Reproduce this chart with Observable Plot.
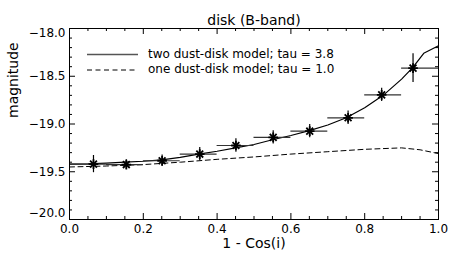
<!DOCTYPE html>
<html>
<head>
<meta charset="utf-8">
<script src="https://cdn.jsdelivr.net/npm/d3@7"></script>
<script src="https://cdn.jsdelivr.net/npm/@observablehq/plot@0.6"></script>
<style>
  html, body { margin: 0; padding: 0; background: white; }
  #wrap { position: relative; width: 449px; height: 255px; font-family: "DejaVu Sans", sans-serif; }
  #legend { position: absolute; left: 0; top: 0; width: 449px; height: 255px; pointer-events: none; }
</style>
</head>
<body>
<div id="wrap"></div>
<script>
// ---- data ----
const titleText = "disk (B-band)";
const xLabel = "1 - Cos(i)";
const yLabel = "magnitude";
const legendLabels = ["two dust-disk model; tau = 3.8", "one dust-disk model; tau = 1.0"];

const xMajorTicks = [0, 0.2, 0.4, 0.6, 0.8, 1.0];
const xMinorTicks = [0.05, 0.1, 0.15, 0.25, 0.3, 0.35, 0.45, 0.5, 0.55, 0.65, 0.7, 0.75, 0.85, 0.9, 0.95];
const yMajorTicks = [-20, -19.5, -19, -18.5, -18];
const yMinorTicks = [-19.9, -19.8, -19.7, -19.6, -19.4, -19.3, -19.2, -19.1, -18.9, -18.8, -18.7, -18.6, -18.4, -18.3, -18.2, -18.1];

// observed points
const binCenters = [0.065, 0.154, 0.251, 0.353, 0.451, 0.552, 0.651, 0.755, 0.846, 0.931];
const magnitudes = [-19.42, -19.425, -19.385, -19.315, -19.225, -19.14, -19.075, -18.935, -18.695, -18.415];
const magErrors  = [0.09, 0.05, 0.06, 0.07, 0.07, 0.07, 0.07, 0.07, 0.07, 0.15];
const binLow     = [0.0, 0.1, 0.2, 0.3, 0.4, 0.5, 0.6, 0.7, 0.8, 0.9];
const binHigh    = [0.1, 0.2, 0.3, 0.4, 0.5, 0.6, 0.7, 0.8, 0.9, 1.0];

// model curves
const twoDiskX = [0, 0.05, 0.1, 0.15, 0.2, 0.25, 0.3, 0.35, 0.4, 0.45, 0.5, 0.55, 0.6, 0.65, 0.7, 0.75, 0.8, 0.85, 0.9, 0.93, 0.96, 1.0];
const twoDiskY = [-19.42, -19.418, -19.41, -19.40, -19.39, -19.375, -19.35, -19.315, -19.285, -19.25, -19.215, -19.165, -19.12, -19.07, -19.01, -18.935, -18.83, -18.70, -18.53, -18.41, -18.26, -18.18];
const oneDiskX = [0, 0.1, 0.2, 0.3, 0.4, 0.5, 0.6, 0.7, 0.8, 0.9, 0.95, 1.0];
const oneDiskY = [-19.45, -19.44, -19.425, -19.40, -19.37, -19.345, -19.315, -19.29, -19.265, -19.25, -19.27, -19.31];

// ---- tables built from the arrays ----
const points = binCenters.map((x, i) => ({x, y: magnitudes[i], err: magErrors[i], lo: binLow[i], hi: binHigh[i]}));
const twoDisk = twoDiskX.map((x, i) => ({x, y: twoDiskY[i]}));
const oneDisk = oneDiskX.map((x, i) => ({x, y: oneDiskY[i]}));

const W = 449, H = 255, mL = 69, mR = 11, mT = 28, mB = 36;
const fw = W - mL - mR, fh = H - mT - mB;
const fmt = d3.format(".1f");
const ink = "black";

const chart = Plot.plot({
  width: W, height: H,
  marginLeft: mL, marginRight: mR, marginTop: mT, marginBottom: mB,
  style: {fontFamily: "DejaVu Sans, sans-serif", fontSize: "12px", background: "white", color: ink},
  x: {domain: [0, 1]},
  y: {domain: [-20, -18]},
  marks: [
    // axis tick marks (inward, all four sides)
    Plot.tickX(xMajorTicks, {x: d => d, insetTop: fh - 6, stroke: ink}),
    Plot.tickX(xMajorTicks, {x: d => d, insetBottom: fh - 6, stroke: ink}),
    Plot.tickX(xMinorTicks, {x: d => d, insetTop: fh - 3, stroke: ink}),
    Plot.tickX(xMinorTicks, {x: d => d, insetBottom: fh - 3, stroke: ink}),
    Plot.tickY(yMajorTicks, {y: d => d, insetRight: fw - 6, stroke: ink}),
    Plot.tickY(yMajorTicks, {y: d => d, insetLeft: fw - 6, stroke: ink}),
    Plot.tickY(yMinorTicks, {y: d => d, insetRight: fw - 3, stroke: ink}),
    Plot.tickY(yMinorTicks, {y: d => d, insetLeft: fw - 3, stroke: ink}),
    // tick labels
    Plot.axisX(xMajorTicks, {anchor: "bottom", tickSize: 0, tickPadding: 5, tickFormat: fmt, label: null, fontSize: 12}),
    Plot.axisY(yMajorTicks.filter(v => v > -20 && v < -18), {anchor: "left", tickSize: 0, tickPadding: 4, tickFormat: fmt, label: null, fontSize: 12}),
    Plot.axisY([-18], {anchor: "left", tickSize: 0, tickPadding: 4, tickFormat: fmt, label: null, fontSize: 12, dy: 5}),
    Plot.axisY([-20], {anchor: "left", tickSize: 0, tickPadding: 4, tickFormat: fmt, label: null, fontSize: 12, dy: -6}),
    // models
    Plot.line(oneDisk, {x: "x", y: "y", stroke: ink, strokeWidth: 1, strokeDasharray: "5,3.5"}),
    Plot.line(twoDisk, {x: "x", y: "y", stroke: ink, strokeWidth: 1.2}),
    // error bars
    Plot.ruleY(points, {y: "y", x1: "lo", x2: "hi", stroke: "#333", strokeWidth: 1.2}),
    Plot.ruleX(points, {x: "x", y1: d => d.y - d.err, y2: d => d.y + d.err, stroke: ink, strokeWidth: 1.2}),
    // asterisk symbols
    Plot.dot(points, {x: "x", y: "y", symbol: "plus", r: 3.2, stroke: ink, strokeWidth: 1.8}),
    Plot.dot(points, {x: "x", y: "y", symbol: "times", r: 3.2, stroke: ink, strokeWidth: 1.8}),
    Plot.frame({stroke: ink}),
    // titles
    Plot.text([titleText], {frameAnchor: "top", dy: -13, fontSize: 14, fill: ink}),
    Plot.text([xLabel], {frameAnchor: "bottom", dy: 28, fontSize: 14, fill: ink}),
    Plot.text([yLabel], {frameAnchor: "left", dx: -56, dy: -6, rotate: -90, fontSize: 14, fill: ink})
  ]
});

const wrap = document.getElementById("wrap");
wrap.appendChild(chart);

// legend overlay
const ns = "http://www.w3.org/2000/svg";
const leg = document.createElementNS(ns, "svg");
leg.setAttribute("id", "legend");
leg.setAttribute("width", W);
leg.setAttribute("height", H);
const rows = [{y: 54.5, dash: null, w: 1.5, color: "#555"}, {y: 70, dash: "5,3.5", w: 1, color: ink}];
rows.forEach((r, i) => {
  const ln = document.createElementNS(ns, "line");
  ln.setAttribute("x1", 87); ln.setAttribute("x2", 138);
  ln.setAttribute("y1", r.y); ln.setAttribute("y2", r.y);
  ln.setAttribute("stroke", r.color);
  ln.setAttribute("stroke-width", r.w);
  if (r.dash) ln.setAttribute("stroke-dasharray", r.dash);
  leg.appendChild(ln);
  const t = document.createElementNS(ns, "text");
  t.setAttribute("x", 148); t.setAttribute("y", r.y - 1);
  t.setAttribute("dy", "0.35em");
  t.setAttribute("font-family", "DejaVu Sans, sans-serif");
  t.setAttribute("font-size", "12px");
  t.setAttribute("fill", ink);
  t.setAttribute("xml:space", "preserve");
  t.textContent = legendLabels[i];
  leg.appendChild(t);
});
wrap.appendChild(leg);
</script>
</body>
</html>
